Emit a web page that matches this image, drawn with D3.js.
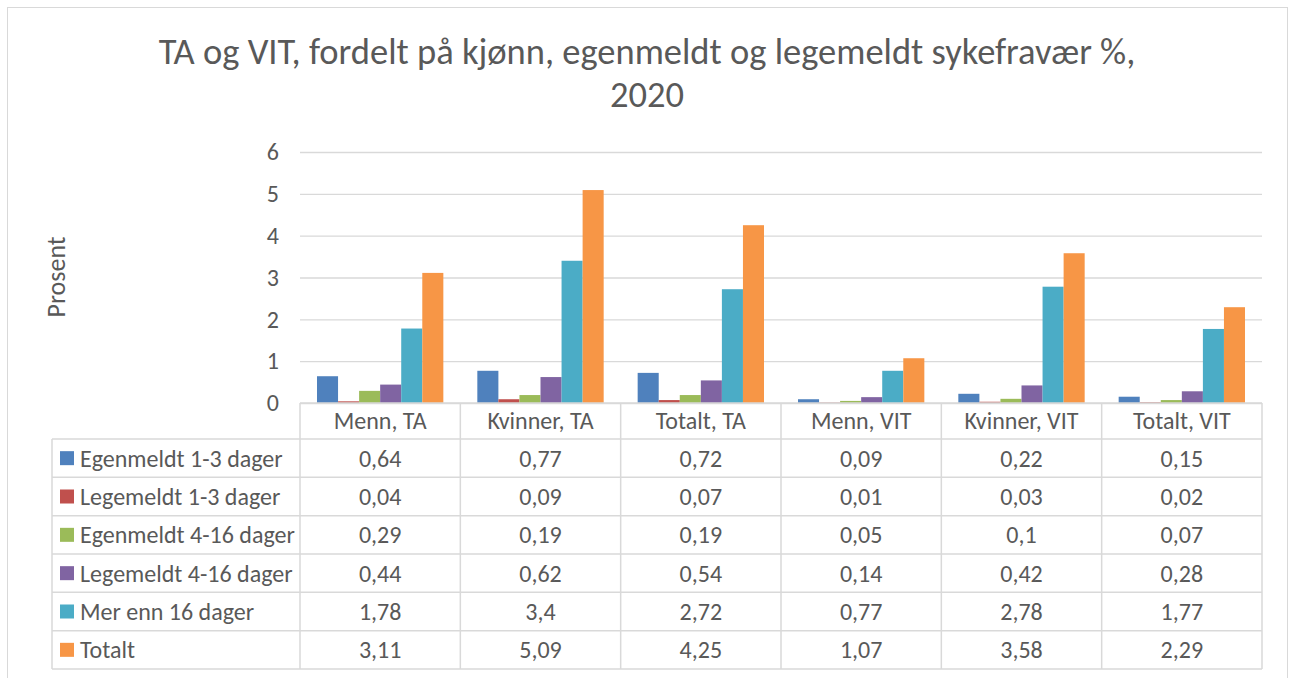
<!DOCTYPE html>
<html>
<head>
<meta charset="utf-8">
<script src="https://cdn.jsdelivr.net/npm/d3@7"></script>
<style>
  body { margin: 0; background: #fff; }
  svg { font-family: Carlito, Calibri, Lato, sans-serif; }
</style>
</head>
<body>
<svg id="chart" width="1292" height="678"></svg>
<script>
// categories along the x axis
var categories = ['Menn, TA', 'Kvinner, TA', 'Totalt, TA', 'Menn, VIT', 'Kvinner, VIT', 'Totalt, VIT'];

// series names (legend / table rows)
var seriesNames = ['Egenmeldt 1-3 dager', 'Legemeldt 1-3 dager', 'Egenmeldt 4-16 dager',
    'Legemeldt 4-16 dager', 'Mer enn 16 dager', 'Totalt'];

// values per series, one per category
var egenmeldt13 = [0.64, 0.77, 0.72, 0.09, 0.22, 0.15];
var legemeldt13 = [0.04, 0.09, 0.07, 0.01, 0.03, 0.02];
var egenmeldt416 = [0.29, 0.19, 0.19, 0.05, 0.1, 0.07];
var legemeldt416 = [0.44, 0.62, 0.54, 0.14, 0.42, 0.28];
var merEnn16 = [1.78, 3.4, 2.72, 0.77, 2.78, 1.77];
var totalt = [3.11, 5.09, 4.25, 1.07, 3.58, 2.29];

var yTicks = [0, 1, 2, 3, 4, 5, 6];

var seriesValues = [egenmeldt13, legemeldt13, egenmeldt416, legemeldt416, merEnn16, totalt];
var colors = ['#4F81BD', '#C0504D', '#9BBB59', '#8064A2', '#4BACC6', '#F79646'];

var svg = d3.select('#chart');
var textColor = '#595959';
var lineColor = '#d9d9d9';
var fontSize = '24px';

// outer chart frame
svg.append('rect')
    .attr('x', 7.5).attr('y', 7.5)
    .attr('width', 1280).attr('height', 700)
    .attr('fill', 'none').attr('stroke', lineColor);

// plot area
var plot = {l: 300, r: 1262, t: 152, b: 403};

var x = d3.scaleBand().domain(categories).range([plot.l, plot.r]);
var gap = x.bandwidth() * 0.212;
var xSub = d3.scaleBand().domain(seriesNames).range([gap / 2, x.bandwidth() - gap / 2]);
var y = d3.scaleLinear().domain([0, 6]).range([plot.b, plot.t]);

// title (two lines, like the wrapped Excel title)
var title = svg.append('text')
    .attr('text-anchor', 'middle')
    .attr('fill', textColor)
    .style('font-size', '36.5px');
title.append('tspan').attr('x', 647).attr('y', 64).text('TA og VIT, fordelt på kjønn, egenmeldt og legemeldt sykefravær %,');
title.append('tspan').attr('x', 647).attr('y', 107).text('2020');

// gridlines
svg.append('g')
    .attr('transform', 'translate(' + plot.l + ',0)')
    .call(d3.axisLeft(y).tickValues(yTicks).tickSize(-(plot.r - plot.l)).tickFormat(''))
    .call(function(g) { g.select('.domain').remove(); })
    .selectAll('line').attr('stroke', lineColor).attr('stroke-width', 1.3);

// y axis labels
svg.append('g')
    .attr('transform', 'translate(' + (plot.l - 12) + ',0)')
    .call(d3.axisLeft(y).tickValues(yTicks).tickSize(0).tickPadding(9).tickFormat(d3.format('d')))
    .call(function(g) { g.select('.domain').remove(); })
    .selectAll('text')
    .attr('fill', textColor)
    .style('font-family', 'Carlito, Calibri, Lato, sans-serif')
    .style('font-size', fontSize);

svg.append('text')
    .attr('transform', 'translate(65,277) rotate(-90)')
    .attr('text-anchor', 'middle')
    .attr('fill', textColor)
    .style('font-size', '26px')
    .text('Prosent');

// bars
var groups = svg.append('g').selectAll('g')
    .data(categories)
    .enter().append('g')
    .attr('transform', function(d) { return 'translate(' + x(d) + ',0)'; });

groups.selectAll('rect')
    .data(function(d, ci) {
        return seriesNames.map(function(s, si) { return {s: s, si: si, v: seriesValues[si][ci]}; });
    })
    .enter().append('rect')
    .attr('x', function(d) { return xSub(d.s); })
    .attr('width', xSub.bandwidth())
    .attr('y', function(d) { return y(d.v); })
    .attr('height', function(d) { return y(0) - y(d.v); })
    .attr('fill', function(d) { return colors[d.si]; });

// data table
var tableLeft = 52;
var headerTop = plot.b;
var headerBottom = 439;
var rows = d3.scaleBand().domain(seriesNames).range([headerBottom, 669]);
var table = svg.append('g');
var fmt = function(v) { return String(v).replace('.', ','); };

// horizontal lines
table.append('line')
    .attr('x1', plot.l).attr('x2', plot.r)
    .attr('y1', headerTop).attr('y2', headerTop);
seriesNames.forEach(function(s) {
    table.append('line')
        .attr('x1', tableLeft).attr('x2', plot.r)
        .attr('y1', rows(s)).attr('y2', rows(s));
});
table.append('line')
    .attr('x1', tableLeft).attr('x2', plot.r)
    .attr('y1', 669).attr('y2', 669);

// vertical lines
table.append('line')
    .attr('x1', tableLeft).attr('x2', tableLeft)
    .attr('y1', headerBottom).attr('y2', 669);
categories.forEach(function(c) {
    table.append('line')
        .attr('x1', x(c)).attr('x2', x(c))
        .attr('y1', headerTop).attr('y2', 669);
});
table.append('line')
    .attr('x1', plot.r).attr('x2', plot.r)
    .attr('y1', headerTop).attr('y2', 669);

table.selectAll('line').attr('stroke', lineColor).attr('stroke-width', 1.5);

// header labels
table.selectAll('.head')
    .data(categories)
    .enter().append('text')
    .attr('class', 'head')
    .attr('x', function(d) { return x(d) + x.bandwidth() / 2; })
    .attr('y', (headerTop + headerBottom) / 2)
    .attr('dy', '0.35em')
    .attr('text-anchor', 'middle')
    .attr('fill', textColor)
    .style('font-size', fontSize)
    .text(function(d) { return d; });

// row legend keys and names
var rowG = table.selectAll('.row')
    .data(seriesNames)
    .enter().append('g')
    .attr('class', 'row')
    .attr('transform', function(d) { return 'translate(0,' + rows(d) + ')'; });

rowG.append('rect')
    .attr('x', 60)
    .attr('y', rows.bandwidth() / 2 - 7)
    .attr('width', 14).attr('height', 14)
    .attr('fill', function(d, i) { return colors[i]; });

rowG.append('text')
    .attr('x', 80)
    .attr('y', rows.bandwidth() / 2)
    .attr('dy', '0.35em')
    .attr('fill', textColor)
    .style('font-size', fontSize)
    .text(function(d) { return d; });

rowG.selectAll('.val')
    .data(function(d, si) { return seriesValues[si]; })
    .enter().append('text')
    .attr('class', 'val')
    .attr('x', function(d, ci) { return x(categories[ci]) + x.bandwidth() / 2; })
    .attr('y', rows.bandwidth() / 2)
    .attr('dy', '0.35em')
    .attr('text-anchor', 'middle')
    .attr('fill', textColor)
    .style('font-size', fontSize)
    .text(fmt);
</script>
</body>
</html>
